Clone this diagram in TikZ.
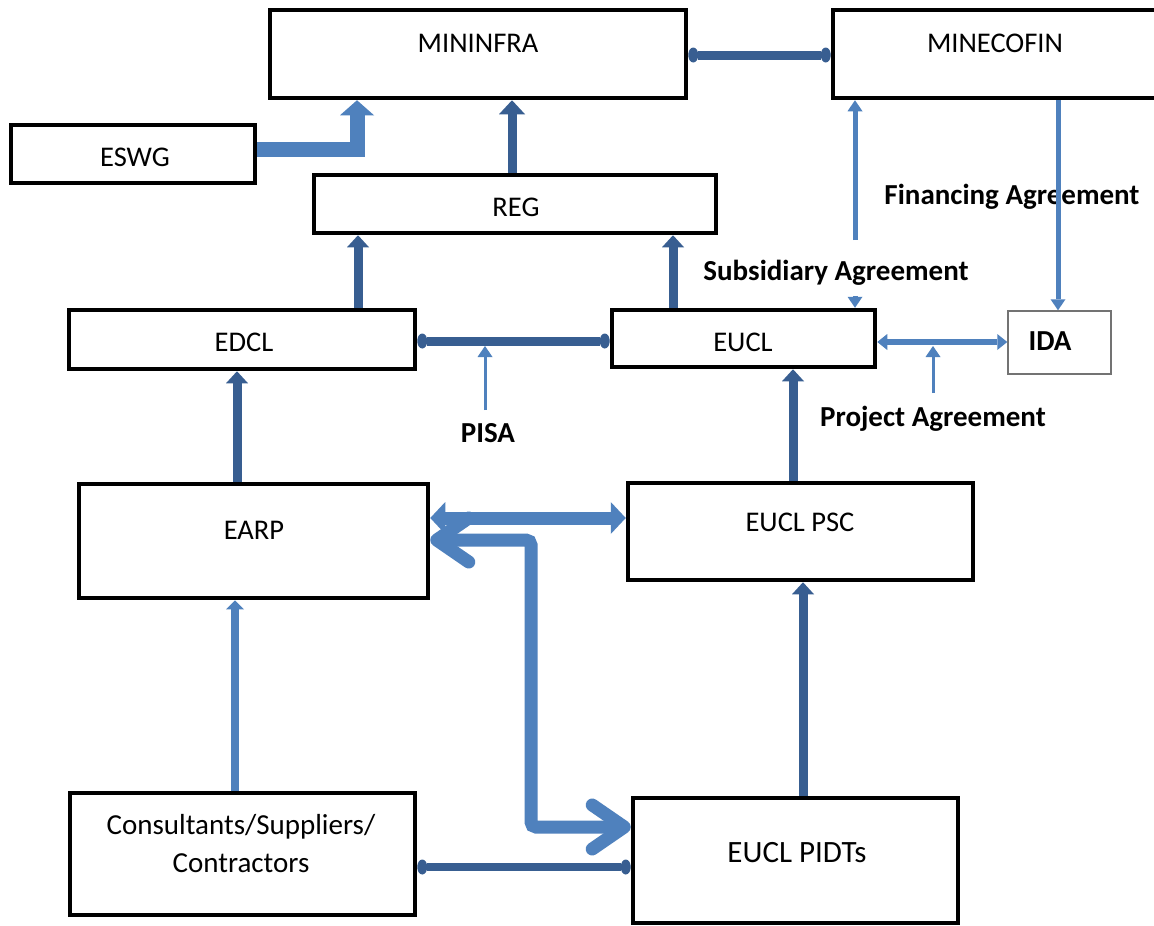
\documentclass[tikz,border=0pt]{standalone}
\usepackage{fontspec}
\setmainfont{Carlito}
\usetikzlibrary{arrows.meta}
\definecolor{dk}{RGB}{56,94,145}
\definecolor{lt}{RGB}{79,129,189}
\begin{document}
\begin{tikzpicture}[x=1pt,y=-1pt,
  box/.style={draw=black, line width=4.5pt, rectangle, inner sep=0pt, fill=white},
  thinbox/.style={draw=black!55, line width=1.5pt, rectangle, inner sep=0pt, fill=white},
  lbl/.style={inner sep=0pt, font=\fontsize{28.5}{34}\selectfont, text height=18.4pt, text depth=0pt},
  blbl/.style={inner sep=0pt, font=\bfseries\fontsize{29}{34}\selectfont, text height=18.7pt, text depth=0pt},
  dkarrow/.style={draw=dk, line width=9pt, -{Triangle[length=12pt,width=22pt,line width=0pt]}},
  dkline/.style={draw=dk, line width=9pt, {Circle[length=10pt,width=15pt,line width=0pt]}-{Circle[length=10pt,width=15pt,line width=0pt]}},
  ltthin/.style={draw=lt, line width=#1, -{Triangle[length=11pt,width=15pt,line width=0pt]}},
  ltthin/.default=3pt,
  ltblock/.style={draw=lt, line width=15pt, -{Triangle[length=15pt,width=34pt,line width=0pt]}},
  ltdouble/.style={draw=lt, line width=13pt, {Triangle[length=15pt,width=32pt,line width=0pt]}-{Triangle[length=15pt,width=32pt,line width=0pt]}},
  ltbent/.style={draw=lt, line width=13pt, rounded corners=5pt, {Straight Barb[length=32pt,width=44pt,round]}-{Straight Barb[length=32pt,width=44pt,round]}}
]
\useasboundingbox[fill=white] (0,0) rectangle (1154,926);

% boxes
\node[box, minimum width=416pt, minimum height=88pt] (mininfra) at (478,54) {};
\node[box, minimum width=330pt, minimum height=88pt] (minecofin) at (998,54) {};
\node[box, minimum width=244pt, minimum height=58pt] (eswg) at (133,154) {};
\node[box, minimum width=402pt, minimum height=58pt] (reg) at (515,204) {};
\node[box, minimum width=346pt, minimum height=59pt] (edcl) at (242,339.5) {};
\node[box, minimum width=263pt, minimum height=57pt] (eucl) at (743.5,338.5) {};
\node[thinbox, minimum width=103pt, minimum height=63pt] (ida) at (1059.5,342.5) {};
\node[box, minimum width=349pt, minimum height=114pt] (earp) at (253.5,541) {};
\node[box, minimum width=345pt, minimum height=97pt] (psc) at (800.5,531.5) {};
\node[box, minimum width=345pt, minimum height=122pt] (cons) at (242.5,854) {};
\node[box, minimum width=325pt, minimum height=125pt] (pidt) at (795.5,860.5) {};

% box texts
\node[lbl] (tmininfra) at (478,43) {MININFRA};
\node[lbl] (tminecofin) at (995,43) {MINECOFIN};
\node[lbl] (teswg) at (135,157) {ESWG};
\node[lbl] (treg) at (516,207) {REG};
\node[lbl] (tedcl) at (244,342) {EDCL};
\node[lbl] (teucl) at (743,342) {EUCL};
\node[blbl] (tida) at (1050,341) {IDA};
\node[lbl] (tearp) at (254,530) {EARP};
\node[lbl] (tpsc) at (800,522) {EUCL PSC};
\node[inner sep=0pt, anchor=base, align=center, font=\fontsize{29}{38}\selectfont] (tcons) at (241,872) {Consultants/Suppliers/\\Contractors};
\node[inner sep=0pt, font=\fontsize{31}{36}\selectfont, text height=20pt, text depth=0pt] (tpidt) at (797,852) {EUCL PIDTs};

% agreement labels
\node[blbl] (lfin) at (1012,195) {Financing Agreement};
\node[blbl] (lsub) at (836,271) {Subsidiary Agreement};
\node[blbl] (lprj) at (933,417) {Project Agreement};
\node[blbl] (lpisa) at (488,433) {PISA};

% free-end coordinates
\coordinate (eswgbend) at (357,149.5);
\coordinate (pisaS) at (485,410);
\coordinate (pisaT) at (485,346);
\coordinate (prjS) at (933,393);
\coordinate (prjT) at (933,346);
\coordinate (subA) at (855,240);
\coordinate (subB) at (855,296);
\coordinate (bendA) at (531,540);
\coordinate (bendB) at (531,827);

% connectors
\draw[dkline] (mininfra.east |- 0,55) -- (minecofin.west |- 0,55);
\draw[ltblock] (eswg.east |- eswgbend) -- (eswgbend) -- (mininfra.south -| eswgbend);
\draw[dkarrow, -{Triangle[length=14pt,width=26pt,line width=0pt]}] (reg.north -| 512,0) -- (mininfra.south -| 512,0);
\draw[dkarrow] (edcl.north -| 358,0) -- (reg.south -| 358,0);
\draw[dkarrow] (eucl.north -| 673,0) -- (reg.south -| 673,0);
\draw[dkline] (edcl.east |- 0,341) -- (eucl.west |- 0,341);
\draw[ltthin] (pisaS) -- (pisaT);
\draw[ltthin=6pt, {Triangle[length=10pt,width=16pt,line width=0pt]}-{Triangle[length=10pt,width=16pt,line width=0pt]}] (eucl.east |- 0,342) -- (ida.west |- 0,342);
\draw[ltthin] (prjS) -- (prjT);
\draw[ltthin=5pt] (subA) -- (minecofin.south -| subA);
\draw[ltthin=5pt] (subB) -- (eucl.north -| subB);
\draw[ltthin=5pt] (minecofin.south -| 1058,0) -- (ida.north -| 1058,0);
\draw[dkarrow] (psc.north -| 793,0) -- (eucl.south -| 793,0);
\draw[dkarrow] (earp.north -| 237,0) -- (edcl.south -| 237,0);
\draw[ltthin=8pt, -{Triangle[length=9pt,width=18pt,line width=0pt]}] (cons.north -| 235,0) -- (earp.south -| 235,0);
\draw[dkarrow] (pidt.north -| 803,0) -- (psc.south -| 803,0);
\draw[ltdouble] (earp.east |- 0,518) -- (psc.west |- 0,518);
\draw[ltbent] (earp.east |- bendA) -- (bendA) -- (bendB) -- (pidt.west |- bendB);
\draw[dkline, line width=8pt] (cons.east |- 0,867) -- (pidt.west |- 0,867);
\end{tikzpicture}
\end{document}
